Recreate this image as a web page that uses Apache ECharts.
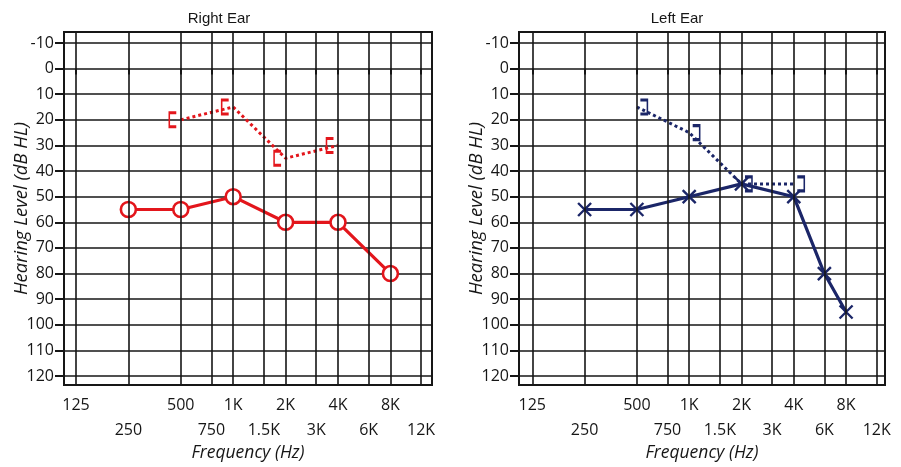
<!DOCTYPE html>
<html>
<head>
<meta charset="utf-8">
<script src="https://cdn.jsdelivr.net/npm/echarts@6/dist/echarts.min.js"></script>
<style>
  html, body { margin: 0; padding: 0; background: #ffffff; }
  #chart { width: 901px; height: 467px; }
</style>
</head>
<body>
<div id="chart"></div>
<script>
// Audiometric test frequencies (Hz) and their printed labels
const frequencies = [125, 250, 500, 750, 1000, 1500, 2000, 3000, 4000, 6000, 8000, 12000];
const upperRowFreqs = [125, 500, 1000, 2000, 4000, 8000];
const lowerRowFreqs = [250, 750, 1500, 3000, 6000, 12000];
const freqLabelText = ['125', '250', '500', '750', '1K', '1.5K', '2K', '3K', '4K', '6K', '8K', '12K'];
const levelTicks = [-10, 0, 10, 20, 30, 40, 50, 60, 70, 80, 90, 100, 110, 120];

// Right ear: air conduction (O) and masked bone conduction ([)
const rightAirFreq = [250, 500, 1000, 2000, 4000, 8000];
const rightAirLevel = [55, 55, 50, 60, 60, 80];
const rightBoneFreq = [500, 1000, 2000, 4000];
const rightBoneLevel = [20, 15, 35, 30];

// Left ear: air conduction (X) and masked bone conduction (])
const leftAirFreq = [250, 500, 1000, 2000, 4000, 6000, 8000];
const leftAirLevel = [55, 55, 50, 45, 50, 80, 95];
const leftBoneFreq = [500, 1000, 2000, 4000];
const leftBoneLevel = [15, 25, 45, 45];

const RED = '#e3161c';
const NAVY = '#1b2668';
const INK = '#161616';
const NUM_FONT = '"Open Sans", "Noto Sans", "Liberation Sans", sans-serif';
const NAME_FONT = '"Open Sans", "Noto Sans", sans-serif';
const TXT_FONT = '"Liberation Sans", Arial, sans-serif';

function labelFor(f) {
  return freqLabelText[frequencies.indexOf(f)];
}
function pairs(xs, ys) {
  return xs.map((x, i) => [x, ys[i]]);
}

const panels = [
  { left: 64, width: 368, xMin: 106.7, xMax: 13870 },
  { left: 519, width: 366, xMin: 104.8, xMax: 13400 }
];

const grids = [], xAxes = [], yAxes = [], series = [];

panels.forEach((p, gi) => {
  grids.push({
    left: p.left, top: 32, width: p.width, height: 355,
    show: true, borderColor: INK, borderWidth: 2, backgroundColor: 'transparent'
  });
  // upper row of frequency labels, with tick marks
  xAxes.push({
    type: 'log', logBase: 2, gridIndex: gi, position: 'bottom',
    min: p.xMin, max: p.xMax,
    axisLine: { show: false },
    axisTick: { show: true, inside: false, length: 6, customValues: frequencies,
                lineStyle: { color: INK, width: 2 } },
    splitLine: { show: false },
    axisLabel: { customValues: upperRowFreqs, formatter: v => labelFor(v),
                 margin: 12, color: INK, fontSize: 16, fontFamily: NUM_FONT },
    name: 'Frequency (Hz)', nameLocation: 'middle', nameGap: 59, nameMoveOverlap: false,
    nameTextStyle: { fontStyle: 'italic', fontSize: 17.5, color: INK, fontFamily: NAME_FONT }
  });
  // lower row of frequency labels
  xAxes.push({
    type: 'log', logBase: 2, gridIndex: gi, position: 'bottom',
    min: p.xMin, max: p.xMax,
    axisLine: { show: false }, axisTick: { show: false }, splitLine: { show: false },
    axisLabel: { customValues: lowerRowFreqs, formatter: v => labelFor(v),
                 margin: 37, color: INK, fontSize: 16, fontFamily: NUM_FONT }
  });
  yAxes.push({
    type: 'value', gridIndex: gi, inverse: true,
    min: -14.27, max: 123.49, splitNumber: 13,
    axisLine: { show: false },
    axisTick: { show: true, length: 9, customValues: levelTicks,
                lineStyle: { color: INK, width: 2 } },
    axisLabel: { customValues: levelTicks, margin: 10, color: INK,
                 fontSize: 16, fontFamily: NUM_FONT },
    splitLine: { show: true, lineStyle: { color: INK, width: 1.6 } },
    name: 'Hearing Level (dB HL)', nameLocation: 'middle', nameGap: 33, nameRotate: 90,
    nameMoveOverlap: false,
    nameTextStyle: { fontStyle: 'italic', fontSize: 18.5, color: INK, fontFamily: NAME_FONT }
  });
  // vertical grid lines at every test frequency
  series.push({
    type: 'line', xAxisIndex: gi * 2, yAxisIndex: gi, data: [], z: 1, silent: true,
    markLine: {
      silent: true, symbol: ['none', 'none'], animation: false,
      label: { show: false },
      lineStyle: { color: INK, width: 1.6, type: 'solid' },
      emphasis: { disabled: true },
      data: frequencies.map(f => ({ xAxis: f }))
    }
  });
});

// Right ear
series.push({
  name: 'Right bone', type: 'line', xAxisIndex: 0, yAxisIndex: 0, z: 3,
  data: pairs(rightBoneFreq, rightBoneLevel),
  lineStyle: { color: RED, width: 3, type: [3, 3] },
  symbol: 'path://M6,0L0,0L0,16L6,16', symbolSize: [7, 14], symbolOffset: [-8, 0],
  itemStyle: { color: 'rgba(0,0,0,0)', borderColor: RED, borderWidth: 2.2 },
  animation: false
});
series.push({
  name: 'Right air', type: 'line', xAxisIndex: 0, yAxisIndex: 0, z: 4,
  data: pairs(rightAirFreq, rightAirLevel),
  lineStyle: { color: RED, width: 3.2 },
  symbol: 'circle', symbolSize: 15,
  itemStyle: { color: '#ffffff', borderColor: RED, borderWidth: 2.6 },
  animation: false
});

// Left ear
series.push({
  name: 'Left bone', type: 'line', xAxisIndex: 2, yAxisIndex: 1, z: 3,
  data: pairs(leftBoneFreq, leftBoneLevel),
  lineStyle: { color: NAVY, width: 3, type: [3, 3] },
  symbol: 'path://M0,0L6,0L6,16L0,16', symbolSize: [7, 14], symbolOffset: [7, 0],
  itemStyle: { color: 'rgba(0,0,0,0)', borderColor: NAVY, borderWidth: 2.2 },
  animation: false
});
series.push({
  name: 'Left air', type: 'line', xAxisIndex: 2, yAxisIndex: 1, z: 4,
  data: pairs(leftAirFreq, leftAirLevel),
  lineStyle: { color: NAVY, width: 3.2 },
  symbol: 'path://M0,0L10,10M10,0L0,10', symbolSize: 13,
  itemStyle: { color: 'rgba(0,0,0,0)', borderColor: NAVY, borderWidth: 2.4 },
  animation: false
});

const chart = echarts.init(document.getElementById('chart'), null, { renderer: 'canvas' });
chart.setOption({
  backgroundColor: '#ffffff',
  animation: false,
  grid: grids,
  xAxis: xAxes,
  yAxis: yAxes,
  series: series,
  graphic: [
    { type: 'text', x: 219, y: 19, style: { text: 'Right Ear', fill: INK, fontSize: 15,
      fontFamily: TXT_FONT, textAlign: 'center', textVerticalAlign: 'middle' } },
    { type: 'text', x: 677, y: 19, style: { text: 'Left Ear', fill: INK, fontSize: 15,
      fontFamily: TXT_FONT, textAlign: 'center', textVerticalAlign: 'middle' } }
  ]
});
</script>
</body>
</html>
